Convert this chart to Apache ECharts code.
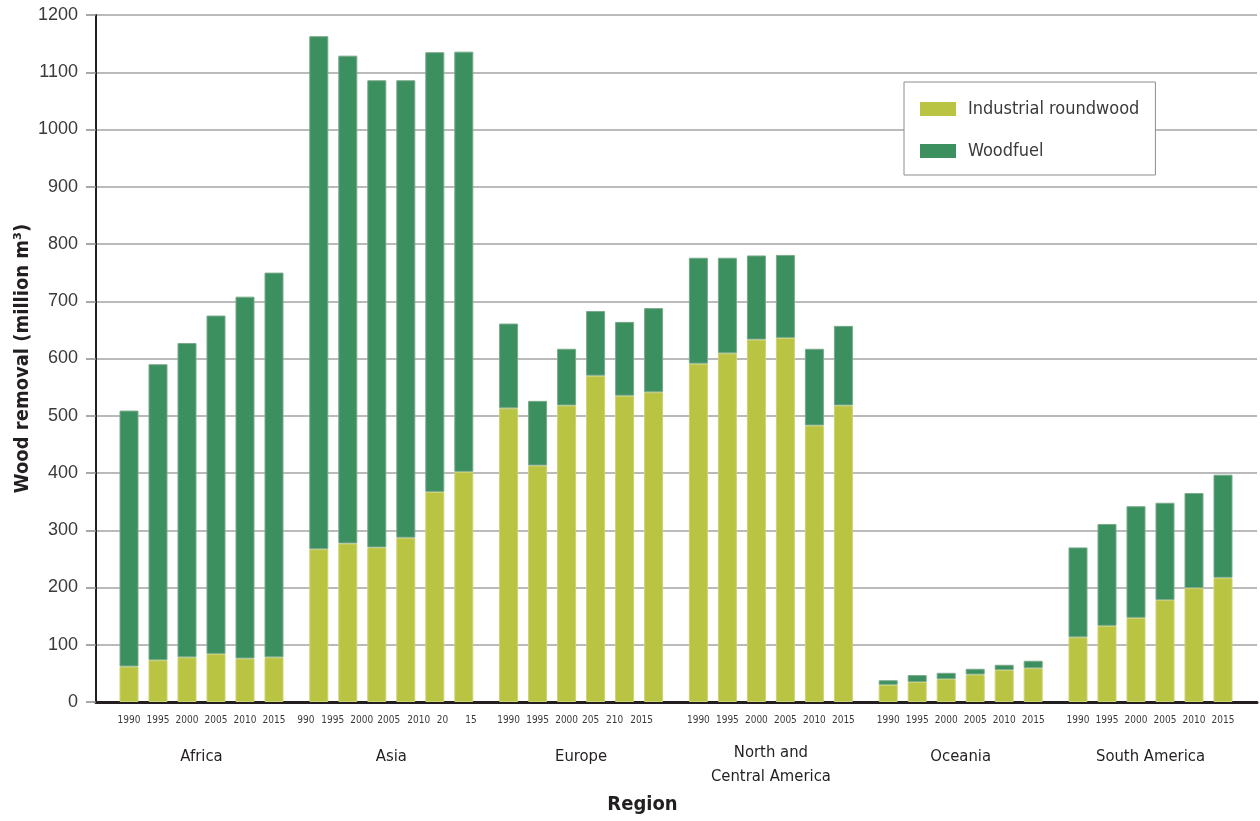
<!DOCTYPE html>
<html>
<head>
<meta charset="utf-8">
<script src="https://cdn.jsdelivr.net/npm/echarts@6/dist/echarts.min.js"></script>
<style>
html,body{margin:0;padding:0;background:#fff;}
#chart{width:1260px;height:821px;}
</style>
</head>
<body>
<div id="chart"></div>
<script>
// ---- data ----
const regions = ['Africa', 'Asia', 'Europe', 'North and\nCentral America', 'Oceania', 'South America'];
const yearLabels = [
  ['1990', '1995', '2000', '2005', '2010', '2015'],
  ['990', '1995', '2000', '2005', '2010', '20      15'],
  ['1990', '1995', '2000', '205', '210', '2015'],
  ['1990', '1995', '2000', '2005', '2010', '2015'],
  ['1990', '1995', '2000', '2005', '2010', '2015'],
  ['1990', '1995', '2000', '2005', '2010', '2015']
];
const industrialRoundwood = [
  [62, 73, 78, 84, 76, 78],
  [267, 277, 270, 287, 367, 402],
  [513, 413, 518, 570, 535, 541],
  [591, 609, 633, 636, 483, 518],
  [30, 35, 40, 48, 56, 59],
  [113, 133, 147, 178, 199, 217]
];
const woodfuel = [
  [447, 517, 549, 591, 632, 672],
  [896, 852, 816, 799, 768, 734],
  [148, 113, 99, 113, 129, 147],
  [185, 167, 147, 145, 134, 139],
  [8, 12, 11, 10, 9, 13],
  [157, 178, 195, 170, 166, 180]
];
const yTicks = { min: 0, max: 1200, interval: 100 };
const seriesNames = ['Industrial roundwood', 'Woodfuel'];

// ---- styling / layout ----
const NARROW = '"DejaVu Sans Condensed", "Liberation Sans Narrow", sans-serif';
const REG = '"Liberation Sans", Arial, sans-serif';
const colInd = '#b9c443';
const colWood = '#3c8f5e';
const TOP = 15, BOTTOM = 119;
// horizontal nudges (px) of the year labels, as placed in the original figure
const labelNudge = [
  [0, 0, 0, 0, 0, 0],
  [-13, -15, -15, -17, -16, -7],
  [0, 0, 0, -5, -10, -12],
  [0, 0, 0, 0, 0, 0],
  [0, 0, 0, 0, 0, 0],
  [0, 0, 0, 0, 0, 0]
];

const grids = [{ left: 96, right: 3, top: TOP, bottom: BOTTOM, outerBoundsMode: 'none', containLabel: false }];
const xAxes = [{
  gridIndex: 0, type: 'category', data: [''],
  axisLine: { show: true, lineStyle: { color: '#231f20', width: 3 } },
  axisTick: { show: false }, axisLabel: { show: false },
  name: 'Region', nameLocation: 'middle', nameGap: 93,
  nameTextStyle: { fontFamily: NARROW, fontWeight: 'bold', fontSize: 20, color: '#231f20', padding: [0, 68, 0, 0] }
}];
const yAxes = [{
  gridIndex: 0, type: 'value', min: yTicks.min, max: yTicks.max, interval: yTicks.interval,
  axisLine: { show: true, lineStyle: { color: '#231f20', width: 2 } },
  axisTick: { show: true, length: 10, lineStyle: { color: '#8c8c8c', width: 1.5 } },
  axisLabel: { fontFamily: REG, fontSize: 18, color: '#3a3a3a', margin: 18, formatter: v => String(v) },
  splitLine: { show: true, lineStyle: { color: '#a3a3a3', width: 1.6 } },
  name: 'Wood removal (million m\u00B3)', nameLocation: 'middle', nameRotate: 90, nameGap: 63,
  nameMoveOverlap: false,
  nameTextStyle: { fontFamily: NARROW, fontWeight: 'bold', fontSize: 20, color: '#231f20' }
}];
const series = [];

regions.forEach((reg, g) => {
  const gi = g + 1;
  grids.push({ left: 114.5 + g * 189.8, width: 174, top: TOP, bottom: BOTTOM, outerBoundsMode: 'none', containLabel: false });
  const twoLine = reg.indexOf('\n') >= 0;
  const rich = {};
  labelNudge[g].forEach((s, i) => {
    rich['n' + i] = {
      fontFamily: NARROW, fontSize: 10, color: '#3a3a3a',
      padding: s < 0 ? [0, -2 * s, 0, 0] : [0, 0, 0, 2 * s]
    };
  });
  xAxes.push({
    gridIndex: gi, type: 'category', data: yearLabels[g],
    axisLine: { show: false }, axisTick: { show: false },
    axisLabel: { fontFamily: NARROW, fontSize: 10, color: '#3a3a3a', margin: 13, interval: 0,
                 formatter: (v, i) => '{n' + i + '|' + v + '}', rich: rich },
    name: reg, nameLocation: 'middle', nameGap: twoLine ? 39 : 43,
    nameTextStyle: { fontFamily: NARROW, fontSize: 16.5, color: '#231f20', lineHeight: 24 }
  });
  yAxes.push({ gridIndex: gi, type: 'value', min: yTicks.min, max: yTicks.max, show: false, splitLine: { show: false } });
  series.push({
    name: seriesNames[0], type: 'bar', stack: 's' + g, xAxisIndex: gi, yAxisIndex: gi,
    barWidth: 19, data: industrialRoundwood[g],
    itemStyle: { color: colInd, borderColor: '#ccd36f', borderWidth: 1 }
  });
  series.push({
    name: seriesNames[1], type: 'bar', stack: 's' + g, xAxisIndex: gi, yAxisIndex: gi,
    barWidth: 19, data: woodfuel[g],
    itemStyle: { color: colWood, borderColor: '#79a98a', borderWidth: 1 }
  });
});

const chart = echarts.init(document.getElementById('chart'), null, { renderer: 'canvas' });
chart.setOption({
  animation: false,
  backgroundColor: '#fff',
  grid: grids, xAxis: xAxes, yAxis: yAxes, series: series,
  legend: {
    data: seriesNames, orient: 'vertical', left: 904, top: 82,
    padding: [15, 16, 12, 16], itemGap: 18, itemWidth: 36, itemHeight: 14, icon: 'rect',
    backgroundColor: '#fff', borderColor: '#8c8c8c', borderWidth: 1,
    itemStyle: { borderWidth: 0 },
    textStyle: { fontFamily: NARROW, fontSize: 18, color: '#3a3a3a', lineHeight: 24, padding: [0, 0, 0, 7] }
  }
});
</script>
</body>
</html>
